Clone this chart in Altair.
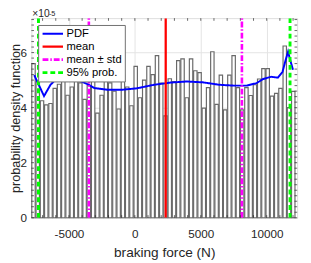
import altair as alt
import pandas as pd

# ---------------- data ----------------
# histogram (values shown in units of 1e-5)
bin_start = -7850
bin_width = 323
hist_heights = [5.6, 4.95, 4.25, 4.1, 4.15, 4.7, 4.85, 5.1, 4.45, 4.75,
                5.0, 4.9, 4.3, 4.8, 5.2, 3.8, 4.45, 5.1, 4.9, 4.6,
                3.95, 5.18, 4.75, 4.07, 5.5, 4.36, 5.0, 5.5, 5.2, 5.89,
                4.89, 3.7, 5.05, 4.95, 5.71, 5.77, 4.36, 5.77, 5.34, 5.27,
                3.98, 4.73, 6.03, 4.12, 5.18, 3.92, 5.18, 5.89, 4.73, 3.92,
                4.73, 4.44, 4.83, 5.04, 5.42, 5.42, 4.42, 4.52, 4.7, 6.24,
                4.0, 4.59]

pdf_x = [-7630, -7260, -6890, -6400, -6000, -5560, -5040, -4300, -3570, -3070,
         -2080, -980, 130, 1450, 2710, 3940, 5150, 6400, 7510, 8490,
         9230, 9730, 10340, 10840, 11200, 11420, 11620, 11800, 11990]
pdf_y = [5.18, 4.8, 4.42, 4.83, 5.02, 5.1, 5.05, 5.0, 4.85, 4.71,
         4.65, 4.65, 4.7, 4.83, 4.91, 4.95, 4.92, 4.83, 4.8, 4.8,
         4.89, 5.04, 5.12, 5.09, 5.3, 5.7, 6.03, 5.7, 5.38]

mean_val = 2340
std_lines = [-3490, 8120]
prob95_lines = [-7310, 11770]

series_names = ["PDF", "mean", "mean \u00b1 std", "95% prob."]
series_colors = ["#0000ff", "#ff0000", "#ff00ff", "#00ff00"]

x_ticks = [-5000, 0, 5000, 10000]
x_minor = list(range(-7000, 13000, 1000))
y_ticks = [0, 1, 2, 3, 4, 5, 6, 7]
y_minor = [round(i * 0.2, 1) for i in range(0, 37)]

X_DOMAIN = [-7850, 12310]
Y_DOMAIN = [0, 7.25]

W, H = 273, 205
FONT = "Liberation Sans"
TXT = "#262626"

# ---------------- tables ----------------
bars = pd.DataFrame({
    "x0": [bin_start + (i + 0.1) * bin_width for i in range(len(hist_heights))],
    "x1": [bin_start + (i + 0.9) * bin_width for i in range(len(hist_heights))],
    "h": hist_heights,
})

rows = []
for k, (xv, yv) in enumerate(zip(pdf_x, pdf_y)):
    rows.append({"series": series_names[0], "id": "pdf", "k": k, "x": xv, "y": yv})
vlines = [(series_names[1], "m", mean_val)]
vlines += [(series_names[2], f"s{i}", v) for i, v in enumerate(std_lines)]
vlines += [(series_names[3], f"p{i}", v) for i, v in enumerate(prob95_lines)]
for name, lid, v in vlines:
    rows.append({"series": name, "id": lid, "k": 0, "x": v, "y": Y_DOMAIN[0]})
    rows.append({"series": name, "id": lid, "k": 1, "x": v, "y": Y_DOMAIN[1]})
lines = pd.DataFrame(rows)

xs = alt.Scale(domain=X_DOMAIN, nice=False, zero=False)
ys = alt.Scale(domain=Y_DOMAIN, nice=False, zero=False)

x_axis = alt.Axis(values=x_ticks, grid=True, gridColor="#e3e3e3", ticks=False, domain=False,
                  labelExpr="'' + datum.value", labelFontSize=12, labelColor=TXT, labelFont=FONT,
                  labelPadding=11, labelOverlap=False, labelFlush=False,
                  title="braking force (N)", titleFontSize=14,
                  titleFontWeight="normal", titleColor=TXT, titleFont=FONT,
                  titleBaseline="alphabetic", titleY=40)
y_axis = alt.Axis(values=y_ticks, grid=True, gridColor="#e3e3e3", ticks=False, domain=False,
                  labelFontSize=12, labelColor=TXT, labelFont=FONT, labelPadding=5,
                  labelOverlap=False, labelFlush=False,
                  title="probability density function", titleFontSize=13,
                  titleFontWeight="normal", titleColor=TXT, titleFont=FONT,
                  titleBaseline="alphabetic", titleX=-12.5, titleY=H / 2, titleAngle=270,
                  titleAlign="center")

bar_layer = alt.Chart(bars).mark_rect(fill="white", stroke="#696969", strokeWidth=1.2).encode(
    x=alt.X("x0:Q", scale=xs, axis=x_axis),
    x2="x1:Q",
    y=alt.Y("h:Q", scale=ys, axis=y_axis),
    y2=alt.datum(0),
)

line_layer = alt.Chart(lines).mark_line(clip=True).encode(
    x=alt.X("x:Q", scale=xs),
    y=alt.Y("y:Q", scale=ys),
    detail="id:N",
    order="k:Q",
    color=alt.Color("series:N", scale=alt.Scale(domain=series_names, range=series_colors),
                    legend=alt.Legend(title=None, orient="none", legendX=7, legendY=7,
                                      symbolType="stroke", symbolSize=441, labelFontSize=11.5,
                                      labelFont=FONT, labelColor="#000000", padding=3,
                                      labelOffset=2, rowPadding=1.3, clipHeight=12,
                                      fillColor="white", strokeColor="#6e6e6e")),
    strokeDash=alt.StrokeDash("series:N", scale=alt.Scale(
        domain=series_names, range=[[1, 0], [1, 0], [6, 2, 1.5, 2], [5, 3]]),
        legend=alt.Legend(title=None, orient="none", legendX=7, legendY=7)),
    strokeWidth=alt.StrokeWidth("series:N", scale=alt.Scale(
        domain=series_names, range=[2, 3, 1.6, 1.6]),
        legend=alt.Legend(title=None, orient="none", legendX=7, legendY=7)),
)

tick_col = "#262626"
tl = 2.7
xt = pd.DataFrame({"v": sorted(set(x_minor + x_ticks))})
yt = pd.DataFrame({"v": y_minor})
tick_b = alt.Chart(xt).mark_rule(color=tick_col, strokeWidth=0.7).encode(
    x=alt.X("v:Q", scale=xs), y=alt.value(H), y2=alt.value(H - tl))
tick_t = alt.Chart(xt).mark_rule(color=tick_col, strokeWidth=0.7).encode(
    x=alt.X("v:Q", scale=xs), y=alt.value(0), y2=alt.value(tl))
tick_l = alt.Chart(yt).mark_rule(color=tick_col, strokeWidth=0.7).encode(
    y=alt.Y("v:Q", scale=ys), x=alt.value(0), x2=alt.value(tl))
tick_r = alt.Chart(yt).mark_rule(color=tick_col, strokeWidth=0.7).encode(
    y=alt.Y("v:Q", scale=ys), x=alt.value(W), x2=alt.value(W - tl))

exp_base = alt.Chart(pd.DataFrame({"t": ["\u00d710"]})).mark_text(
    align="left", baseline="alphabetic", fontSize=10.5, font=FONT, color=TXT, clip=False).encode(
    text="t:N", x=alt.value(1), y=alt.value(-0.8))
exp_pow = alt.Chart(pd.DataFrame({"t": ["-5"]})).mark_text(
    align="left", baseline="alphabetic", fontSize=7.5, font=FONT, color=TXT, clip=False).encode(
    text="t:N", x=alt.value(18), y=alt.value(-2.5))

chart = alt.layer(bar_layer, line_layer, tick_b, tick_t, tick_l, tick_r, exp_base, exp_pow).properties(
    width=W, height=H,
    autosize=alt.AutoSizeParams(type="none"),
    padding={"left": 24, "top": 7, "right": 6, "bottom": 42},
).configure_view(stroke="#404040", strokeWidth=0.8).configure(font=FONT)

chart.save("out.html", embed_options={"renderer": "svg", "actions": False})
